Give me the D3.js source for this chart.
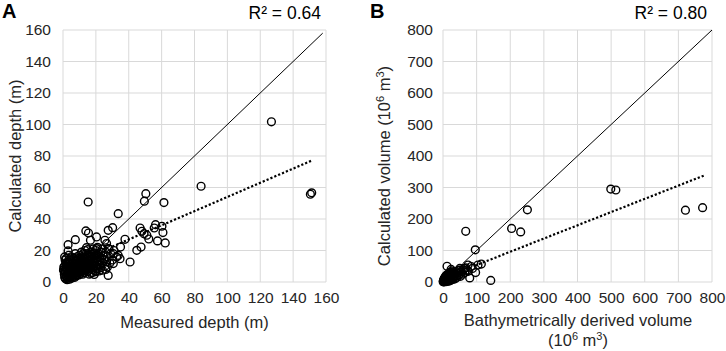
<!DOCTYPE html>
<html><head><meta charset="utf-8">
<script src="https://cdn.jsdelivr.net/npm/d3@7"></script>
<style>
html,body{margin:0;padding:0;background:#fff;}
svg{display:block;font-family:"Liberation Sans",Arial,sans-serif;}
</style></head>
<body>
<svg id="chart" width="726" height="351"></svg>
<script>
// ---------- DATA ----------
const depthTicks = [0, 20, 40, 60, 80, 100, 120, 140, 160];
const volumeTicks = [0, 100, 200, 300, 400, 500, 600, 700, 800];

// Panel A: [measured depth (m), calculated depth (m)]
const depthPoints = [
  [126.8,101.7],[84,60.8],[151.3,56.6],[150.5,55.7],[15.3,50.8],[50.4,56.1],[49.5,51.3],[61.4,50.4],
  [33.6,43.4],[30.2,34.5],[27.5,32.8],[13.9,32.4],[15.5,31.1],[37.7,27.1],[35,22.2],[46.9,34.3],
  [48,32.2],[49.3,30.7],[51,29.7],[56.3,36.4],[55.5,34.3],[52.2,27.3],[60.2,35.4],[60.8,31.4],
  [57.5,26.1],[62.2,24.8],[47.5,22.2],[44.9,20.1],[40.8,12.7],[30.6,11.7],[20.4,28.6],[16.7,26.5],
  [7.5,26.9],[3.1,23.7],[3.1,19.7],[14.3,21.8],[20.4,21.2],[25.5,26.5],[26.5,24.4],[27.5,21.2],
  [30.6,18],[32.6,15.9],[34.7,14.8],[33.6,16.9],[1,15.9],[2,11.7],[20.4,8.5],[27,9.5],[27.5,4.2],
  [0.3,7.5],[0.5,9.5],[0.5,8],[0.8,5],[1,3],[1,10],[1.2,7],[1.3,14],[1.5,2],[1.5,6],[1.7,12],[1.8,4],
  [2,9],[2,15],[2.2,3],[2.3,6.5],[2.5,11],[2.5,1.5],[2.7,8],[2.8,4.5],[3,13],[3,2.5],[3.2,6],[3.3,10],
  [3.5,17],[3.5,3.5],[3.7,8],[3.8,12],[4,5],[4,1.8],[4.2,9.5],[4.4,14],[4.5,3],[4.6,7],[4.8,11],[5,4],
  [5,16],[5.2,6],[5.3,9],[5.5,2.5],[5.5,13],[5.7,7.5],[5.8,5],[6,10],[6,3.5],[6.2,12],[6.3,8],[6.5,6],
  [6.5,15],[6.7,4.5],[6.8,9],[7,11],[7,7],[7.2,3],[7.3,13],[7.5,5.5],[7.5,18],[7.7,8.5],[7.8,10],
  [8,6.5],[8,14],[8.2,4],[8.3,12],[8.5,9],[8.5,16],[8.7,7],[8.8,5],[9,11],[9,13.5],[9.2,8],[9.3,6],
  [9.5,15],[9.5,10],[9.7,4.5],[9.8,12],[10,7],[10,17],[10.2,9],[10.3,13],[10.5,5.5],[10.5,11],[10.7,8],
  [10.8,15],[11,6.5],[11,10],[11.2,12.5],[11.3,19],[11.5,8.5],[11.5,14],[11.7,7],[11.8,11],[12,5],
  [12,16],[12.2,9.5],[12.3,13],[12.5,7.5],[12.5,18],[12.7,11],[12.8,6],[13,14.5],[13,9],[13.2,12],
  [13.3,20],[13.5,8],[13.5,16],[13.7,10.5],[13.8,7],[14,13],[14,18],[14.3,9],[14.5,11.5],[14.5,15],
  [14.8,6.5],[15,12],[15,20.5],[15.3,9],[15.5,17],[15.5,14],[15.8,10.5],[16,7.5],[16,13],[16.3,16],
  [16.5,11],[16.8,19],[17,9],[17,14],[17.3,12],[17.5,17.5],[17.8,8],[18,15],[18,11],[18.3,21],[18.5,13],
  [18.8,10],[19,16.5],[19,18.5],[19.3,12],[19.5,14],[19.8,7],[20,20],[20,10],[20.3,15],[20.5,17],
  [20.8,12.5],[21,22],[21.3,14],[21.5,18],[22,11],[22,16],[22.5,13],[23,19],[23,9],[23.5,15],[24,21],
  [24,12],[24.5,17],[25,14],[25.5,10],[26,19],[26.5,13],[27,16],[28,21],[28.5,12],[29,18],[30,14],[31,20],
  [16,5],[18,6],[20,6.5],[22,7],[24,7.5],[26,8],[19,4.8],[21,8.5],[17,5.5]
];

// Panel B: [bathymetrically derived volume, calculated volume] (10^6 m^3)
const volumePoints = [
  [772,236],[721,228],[499,295],[514,292],[251,229],[204,170],[231,159],[67.6,161],[96,102],[142,5],
  [114,57],[104,54],[79.5,13],[97,30],[74.5,54],[87.5,43],[49.7,37.6],[12,50],[24,40],
  [0.5,1],[1,3],[1.5,0.5],[2,5],[2,2],[2.5,8],[3,1],[3,4],[3.5,10],[4,2.5],[4,6],[4.5,13],[5,1.5],[5,8],
  [5.5,4],[6,11],[6,2],[6.5,6],[7,15],[7,3],[7.5,9],[8,5],[8,19],[8.5,1],[9,12],[9.5,7],[10,3.5],[10,16],
  [11,9],[11,22],[11.5,5],[12,13],[12.5,2.5],[13,18],[13.5,8],[14,11],[14.5,4],[15,25],[15.5,14],[16,7],
  [16.5,20],[17,10],[18,16],[18.5,3],[19,28],[19.5,12],[20,8],[20.5,22],[21,17],[22,5],[22,31],[23,14],
  [24,10],[24.5,26],[25,19],[26,35],[27,12],[28,24],[29,8],[30,17],[31,30],[32,13],[33,21],[35,27],
  [36,10],[38,33],[40,20],[42,15],[44,28],[45,36],[47,22],[50,43],[52,18],[55,32],[58,25],[60,38],
  [62.5,43],[65,30],[68,45],[72,38],[75,34],[84,49]
];

// Reference lines: 1:1 extent and linear trend [slope, intercept, xStart, xEnd]
const identityA = [24, 158];
const trendA = [0.45, 9, 30, 151];
const identityB = [58, 800];
const trendB = [0.42, 12, 95, 780];

const r2A = "R² = 0.64";
const r2B = "R² = 0.80";

// ---------- DRAW ----------
const svg = d3.select("#chart");
const textColor = "#262626";
const gridColor = "#d9d9d9";

function panel(cfg) {
  const x = d3.scaleLinear().domain([0, cfg.max]).range([cfg.left, cfg.right]);
  const y = d3.scaleLinear().domain([0, cfg.max]).range([cfg.bottom, cfg.top]);
  const g = svg.append("g");

  // grid
  g.append("g").selectAll("line.v").data(cfg.ticks).join("line")
    .attr("x1", d => x(d)).attr("x2", d => x(d))
    .attr("y1", cfg.top).attr("y2", cfg.bottom)
    .attr("stroke", gridColor).attr("stroke-width", 1);
  g.append("g").selectAll("line.h").data(cfg.ticks).join("line")
    .attr("y1", d => y(d)).attr("y2", d => y(d))
    .attr("x1", cfg.left).attr("x2", cfg.right)
    .attr("stroke", gridColor).attr("stroke-width", 1);

  // axes labels via d3 axes (no domain/ticks lines)
  const xAxis = g.append("g").attr("transform", `translate(0,${cfg.bottom})`)
    .call(d3.axisBottom(x).tickValues(cfg.ticks).tickSize(0).tickPadding(10));
  const yAxis = g.append("g").attr("transform", `translate(${cfg.left},0)`)
    .call(d3.axisLeft(y).tickValues(cfg.ticks).tickSize(0).tickPadding(cfg.yPad));
  [xAxis, yAxis].forEach(a => {
    a.select(".domain").remove();
    a.selectAll("text").attr("fill", textColor)
      .style("font-size", "15.5px").style("font-family", '"Liberation Sans",Arial,sans-serif');
  });

  // 1:1 line
  g.append("line")
    .attr("x1", x(cfg.identity[0])).attr("y1", y(cfg.identity[0]))
    .attr("x2", x(cfg.identity[1])).attr("y2", y(cfg.identity[1]))
    .attr("stroke", "#000").attr("stroke-width", 1);

  // trend line (dotted)
  const [m, b, xs, xe] = cfg.trend;
  g.append("line")
    .attr("x1", x(xs)).attr("y1", y(m * xs + b))
    .attr("x2", x(xe)).attr("y2", y(m * xe + b))
    .attr("stroke", "#000").attr("stroke-width", 2.2)
    .attr("stroke-dasharray", "2.2,2");

  // points
  g.append("g").selectAll("circle").data(cfg.points).join("circle")
    .attr("cx", d => x(d[0])).attr("cy", d => y(d[1]))
    .attr("r", 3.9).attr("fill", "none")
    .attr("stroke", "#000").attr("stroke-width", 1.4);

  // panel letter
  svg.append("text").attr("x", cfg.letterX).attr("y", 18)
    .attr("font-size", 20).attr("font-weight", "bold").attr("fill", "#000")
    .text(cfg.letter);
  // R2
  svg.append("text").attr("x", cfg.right - 5).attr("y", 19)
    .attr("text-anchor", "end").attr("font-size", 17.5).attr("fill", "#000")
    .text(cfg.r2);
  return {x, y};
}

panel({max: 160, ticks: depthTicks, left: 63, right: 326, top: 30, bottom: 282, yPad: 12,
  points: depthPoints, identity: identityA, trend: trendA, letter: "A", letterX: 2, r2: r2A});
panel({max: 800, ticks: volumeTicks, left: 443, right: 712, top: 30, bottom: 282, yPad: 10,
  points: volumePoints, identity: identityB, trend: trendB, letter: "B", letterX: 370, r2: r2B});

// axis titles
svg.append("text").attr("x", 194.5).attr("y", 328).attr("text-anchor", "middle")
  .attr("font-size", 16.5).attr("fill", textColor).text("Measured depth (m)");
svg.append("text").attr("transform", "translate(21,156) rotate(-90)").attr("text-anchor", "middle")
  .attr("font-size", 16.5).attr("fill", textColor).text("Calculated depth (m)");

svg.append("text").attr("x", 578).attr("y", 326).attr("text-anchor", "middle")
  .attr("font-size", 16.5).attr("fill", textColor).text("Bathymetrically derived volume");
const t2 = svg.append("text").attr("x", 578).attr("y", 346).attr("text-anchor", "middle")
  .attr("font-size", 16.5).attr("fill", textColor);
t2.append("tspan").text("(10");
t2.append("tspan").attr("dy", -6).attr("font-size", 11).text("6");
t2.append("tspan").attr("dy", 6).text(" m");
t2.append("tspan").attr("dy", -6).attr("font-size", 11).text("3");
t2.append("tspan").attr("dy", 6).text(")");

const t3 = svg.append("text").attr("transform", "translate(390,166) rotate(-90)").attr("text-anchor", "middle")
  .attr("font-size", 16.5).attr("fill", textColor);
t3.append("tspan").text("Calculated volume (10");
t3.append("tspan").attr("dy", -6).attr("font-size", 11).text("6");
t3.append("tspan").attr("dy", 6).text(" m");
t3.append("tspan").attr("dy", -6).attr("font-size", 11).text("3");
t3.append("tspan").attr("dy", 6).text(")");
</script>
</body></html>
